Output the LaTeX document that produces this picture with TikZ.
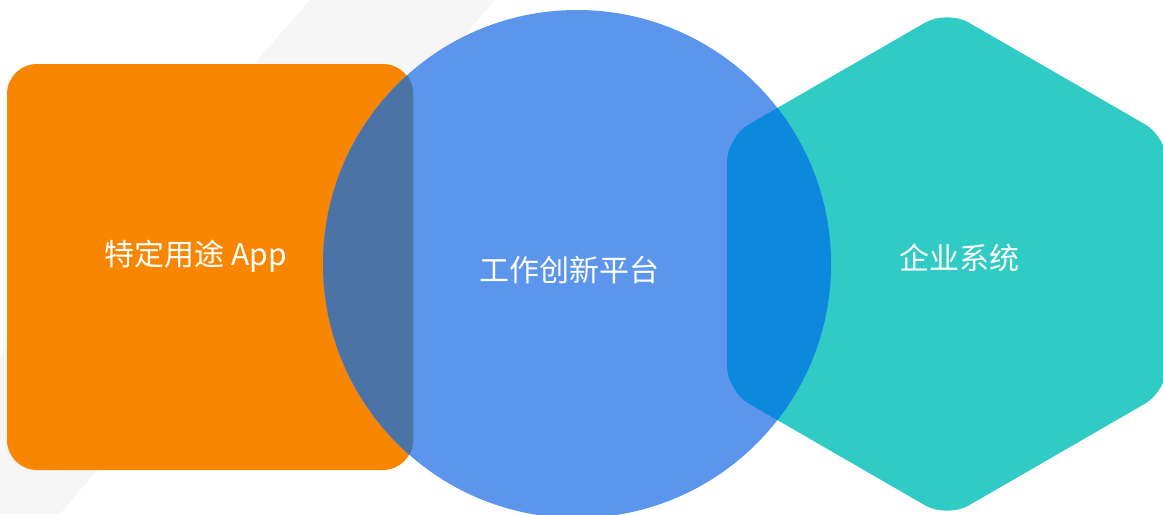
\documentclass[tikz,border=0pt]{standalone}
\usepackage{xcolor}
\usepackage{fontspec}
\usepackage{tikz}
\usetikzlibrary{positioning}
\newfontfamily\cjk{Noto Sans CJK SC}
\definecolor{bandGray}{HTML}{F6F6F6}
\definecolor{appOrange}{HTML}{F98600}
\definecolor{platformBlue}{HTML}{5B96EC}
\definecolor{systemTeal}{HTML}{2FCBC4}
\definecolor{appOverlap}{HTML}{4C73A6}
\definecolor{systemOverlap}{HTML}{0C88DC}
\tikzset{band/.style={fill=bandGray}}
\tikzset{app-box/.style={fill=appOrange, inner sep=0, minimum width=304.5pt, minimum height=304.5pt, rounded corners=22.5pt}}
\tikzset{platform-circle/.style={circle, fill=platformBlue, inner sep=0, minimum size=381pt}}
\tikzset{system-fill/.style={fill=systemTeal, rounded corners=18.75pt}}
\tikzset{system-overlap/.style={system-fill, fill=systemOverlap}}
\tikzset{label-text/.style={text=white, inner sep=0, font=\cjk\fontsize{22.5pt}{27pt}\selectfont}}
\newcommand{\hexr}{190.5pt}
\newcommand{\hexshape}[2] {
    \fill[#2] ([shift={(-30:\hexr)}]#1) -- ([shift={(30:\hexr)}]#1)
        -- ([shift={(90:\hexr)}]#1) -- ([shift={(150:\hexr)}]#1)
        -- ([shift={(210:\hexr)}]#1) -- ([shift={(270:\hexr)}]#1) -- cycle;
}
\begin{document}
\begin{tikzpicture}[x=0.75pt, y=-0.75pt]
            \useasboundingbox (0,0) rectangle (1163,514);
            % background band
            \fill[band] (310,0) -- (495,0) -- (60,514) -- (0,514) -- (0,355) -- cycle;

            \node[app-box] (app) at (210,267) {};
            \coordinate (hexc) at (947,264);
            \hexshape{hexc}{system-fill}
            \node[platform-circle, path picture={
                    \fill[appOverlap, rounded corners=22.5pt] (app.south west) rectangle (app.north east);
                    \hexshape{hexc}{system-overlap}
                }] (platform) at (577,264) {};

            % labels
            \node[label-text] (applabel) at (196,256) {特定用途 App};
            \node[label-text] (platformlabel) at (569,270) {工作创新平台};
            \node[label-text] (systemlabel) at (959,258) {企业系统};
        \end{tikzpicture}
\end{document}
